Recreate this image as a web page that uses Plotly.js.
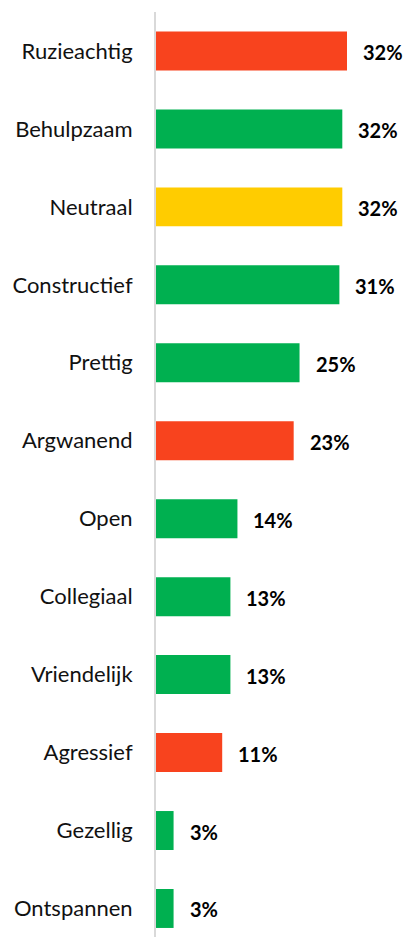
<!DOCTYPE html>
<html>
<head>
<meta charset="utf-8">
<script src="https://cdn.plot.ly/plotly-3.0.1.min.js"></script>
<style>
html,body{margin:0;padding:0;background:#fff;}
#chart{width:405px;height:937px;}
</style>
</head>
<body>
<div id="chart"></div>
<script>
var categories = ["Ruzieachtig","Behulpzaam","Neutraal","Constructief","Prettig","Argwanend","Open","Collegiaal","Vriendelijk","Agressief","Gezellig","Ontspannen"];
var values = [32.6, 31.8, 31.8, 31.3, 24.5, 23.5, 13.9, 12.7, 12.7, 11.3, 3.0, 3.0];
var labels = ["32%","32%","32%","31%","25%","23%","14%","13%","13%","11%","3%","3%"];
var tone = ["neg","pos","neu","pos","pos","neg","pos","pos","pos","neg","pos","pos"];
var toneColors = {neg:"#F8431E", pos:"#00B050", neu:"#FFCC00"};

var trace = {
  type: "bar",
  orientation: "h",
  y: categories,
  x: values,
  marker: {color: tone.map(function(t){return toneColors[t];})},
  hoverinfo: "none"
};

var annotations = categories.map(function(c, i){
  return {
    x: values[i], y: c, xref: "x", yref: "y",
    text: labels[i], showarrow: false,
    xanchor: "left", yanchor: "middle", xshift: 14, yshift: -1,
    font: {family: "Lato, sans-serif", size: 20, color: "#000", weight: "bold"}
  };
});

var layout = {
  width: 405, height: 937,
  margin: {l: 156, r: 0, t: 12, b: 0},
  paper_bgcolor: "#fff", plot_bgcolor: "#fff",
  showlegend: false,
  bargap: 0.5,
  xaxis: {range: [0, 42.5], visible: false, fixedrange: true},
  yaxis: {
    type: "category",
    categoryorder: "array", categoryarray: categories,
    range: [11.366, -0.5],
    showline: true, linecolor: "#d9d9d9", linewidth: 2,
    showgrid: false, zeroline: false,
    ticks: "outside", ticklen: 17, tickcolor: "rgba(0,0,0,0)",
    tickfont: {family: "Lato, sans-serif", size: 22, color: "#111"}
  },
  annotations: annotations
};

Plotly.newPlot("chart", [trace], layout, {displayModeBar: false, staticPlot: true});
</script>
</body>
</html>
